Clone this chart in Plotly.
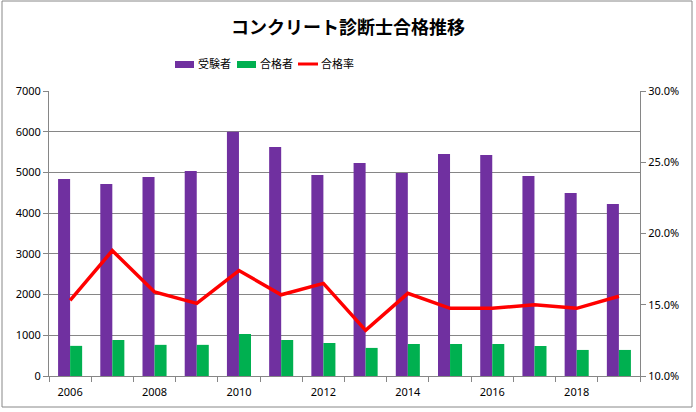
import plotly.graph_objects as go

years = list(range(2006, 2020))
examinees = [4840, 4717, 4889, 5037, 6000, 5626, 4939, 5233, 4988, 5454, 5430, 4914, 4496, 4226]
passers = [740, 884, 765, 765, 1032, 884, 810, 690, 786, 786, 786, 737, 640, 640]
pass_rate = [0.153, 0.188, 0.159, 0.151, 0.174, 0.157, 0.165, 0.132, 0.158, 0.1475, 0.1475, 0.150, 0.1475, 0.156]
x_labels = [2006, 2008, 2010, 2012, 2014, 2016, 2018]
left_ticks = [0, 1000, 2000, 3000, 4000, 5000, 6000, 7000]
right_ticks = [0.10, 0.15, 0.20, 0.25, 0.30]
series_names = ["受験者", "合格者", "合格率"]
series_colors = ["#7030A0", "#00B050", "#FF0000"]

W, H = 696, 412
ML, MR, MT, MB = 49, 56, 91, 36
PW, PH = W - ML - MR, H - MT - MB
GRID = "#868686"
FONT = "Noto Sans, Noto Sans CJK JP, sans-serif"


def px(xp):
    return (xp - ML) / PW


def py(yp):
    return (MT + PH - yp) / PH


fig = go.Figure()
fig.add_trace(go.Bar(x=years, y=examinees, name=series_names[0], marker_color=series_colors[0],
                     marker_line_width=0))
fig.add_trace(go.Bar(x=years, y=passers, name=series_names[1], marker_color=series_colors[1],
                     marker_line_width=0))
fig.add_trace(go.Scatter(x=years, y=pass_rate, name=series_names[2], yaxis="y2", mode="lines",
                         line=dict(color=series_colors[2], width=3.5)))

# custom legend (swatches + labels), positioned in pixel space
shapes = [dict(type="rect", xref="paper", yref="paper",
               x0=px(2), x1=px(692), y0=py(407), y1=py(1),
               line=dict(color="#888888", width=1), fillcolor="rgba(0,0,0,0)", layer="below")]
annotations = []
leg_x = [175, 237, 298]
for i, (name, col) in enumerate(zip(series_names, series_colors)):
    x0 = leg_x[i]
    if i < 2:
        shapes.append(dict(type="rect", xref="paper", yref="paper", x0=px(x0), x1=px(x0 + 19),
                           y0=py(68), y1=py(61), fillcolor=col, line=dict(width=0)))
    else:
        shapes.append(dict(type="line", xref="paper", yref="paper", x0=px(x0), x1=px(x0 + 20),
                           y0=py(64), y1=py(64), line=dict(color=col, width=3)))
    annotations.append(dict(text=name, xref="paper", yref="paper", x=px(x0 + 21), y=py(63),
                            xanchor="left", yanchor="middle", showarrow=False,
                            font=dict(family="Noto Sans CJK JP", size=11, color="black")))

fig.update_layout(
    width=W, height=H,
    margin=dict(l=ML, r=MR, t=MT, b=MB),
    paper_bgcolor="white", plot_bgcolor="white",
    barmode="group", bargap=0.43, bargroupgap=0,
    showlegend=False,
    font=dict(family=FONT, size=11, color="black"),
    title=dict(text="<b>コンクリート診断士合格推移</b>", x=0.5, xanchor="center",
               y=1 - 28 / H, yanchor="middle",
               font=dict(family="Noto Sans CJK JP", size=18, color="black")),
    xaxis=dict(range=[2005.5, 2019.5], tickmode="array", tickvals=x_labels,
               ticks="", showline=True, linecolor=GRID, linewidth=1, showgrid=False,
               zeroline=False, ticklabelstandoff=6,
               minor=dict(tickmode="array", tickvals=[y - 0.5 for y in years] + [2019.5],
                          ticks="outside", ticklen=5, tickcolor=GRID, showgrid=False)),
    yaxis=dict(range=[0, 7000], tickmode="array", tickvals=left_ticks, ticks="outside",
               ticklen=5, tickcolor=GRID, showline=True, linecolor=GRID, linewidth=1,
               showgrid=True, gridcolor=GRID, gridwidth=1, zeroline=False),
    yaxis2=dict(range=[0.10, 0.30], overlaying="y", side="right", tickmode="array",
                tickvals=right_ticks, tickformat=".1%", ticks="outside", ticklen=5,
                tickcolor=GRID, showline=True, linecolor=GRID, linewidth=1,
                showgrid=False, zeroline=False),
    shapes=shapes,
    annotations=annotations,
)

fig.write_html("out.html")
